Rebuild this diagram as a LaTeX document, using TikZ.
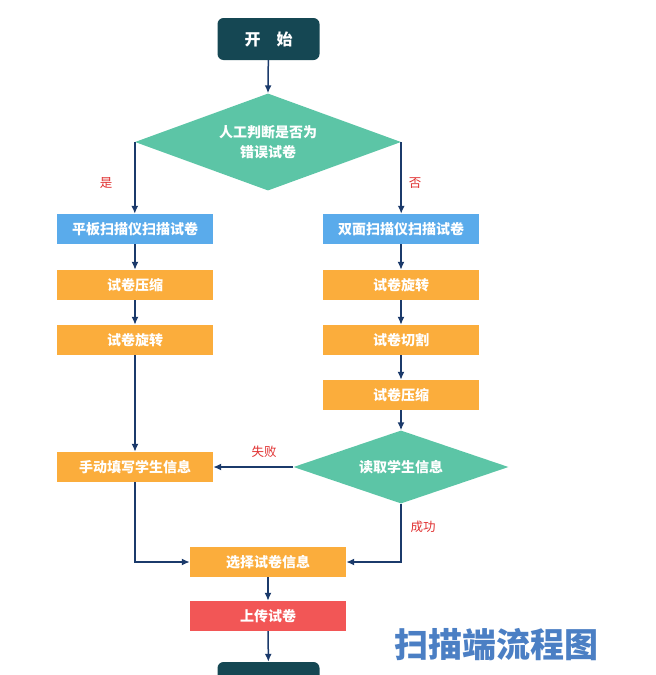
\documentclass[tikz,border=0pt]{standalone}
\usepackage{fontspec}
\newfontfamily\cjk{Noto Sans CJK SC}
\usetikzlibrary{shapes.geometric,arrows.meta}
\definecolor{cteal}{HTML}{154753}
\definecolor{cgreen}{HTML}{5CC5A6}
\definecolor{cblue}{HTML}{5AABEB}
\definecolor{corange}{HTML}{FBAD3C}
\definecolor{cred}{HTML}{F25656}
\definecolor{carrow}{HTML}{1B3A6B}
\definecolor{clabel}{HTML}{E03030}
\definecolor{ctitle}{HTML}{4B7FC4}
\tikzset{
  boxbase/.style={rectangle,minimum width=156pt,minimum height=30pt,inner sep=0pt,
    text=white,font=\cjk\bfseries\fontsize{14}{16}\selectfont},
  bluebox/.style={boxbase,fill=cblue},
  orangebox/.style={boxbase,fill=corange},
  redbox/.style={boxbase,fill=cred},
  termbox/.style={boxbase,fill=cteal,rounded corners=6pt,minimum width=102pt,minimum height=42pt,
    font=\cjk\bfseries\fontsize{16}{18}\selectfont},
  decision/.style={diamond,fill=cgreen,inner sep=0pt,text=white,align=center,
    font=\cjk\bfseries\fontsize{14}{20}\selectfont},
  flow/.style={draw=carrow,line width=1.5pt,-{Latex[length=8pt,width=7pt]}},
  lab/.style={text=clabel,font=\cjk\fontsize{12.5}{14}\selectfont,inner sep=0pt}
}
\begin{document}
\begin{tikzpicture}[x=1pt,y=-1pt]
\useasboundingbox (0,0) rectangle (656,675);
\clip (0,0) rectangle (656,675);
\node[termbox] (start) at (268.5,39) {开\quad 始};
\node[decision,aspect=2.75,minimum width=266pt,minimum height=97pt] (d1) at (268,142) {人工判断是否为\\错误试卷};
\node[bluebox] (l1) at (135,229) {平板扫描仪扫描试卷};
\node[bluebox] (r1) at (401,229) {双面扫描仪扫描试卷};
\node[orangebox] (l2) at (135,285) {试卷压缩};
\node[orangebox] (l3) at (135,340) {试卷旋转};
\node[orangebox] (r2) at (401,285) {试卷旋转};
\node[orangebox] (r3) at (401,340) {试卷切割};
\node[orangebox] (r4) at (401,395) {试卷压缩};
\node[decision,aspect=3,minimum width=215pt,minimum height=73pt] (d2) at (401,467) {读取学生信息};
\node[orangebox] (man) at (135,467) {手动填写学生信息};
\node[orangebox] (sel) at (268,562) {选择试卷信息};
\node[redbox] (up) at (268,616) {上传试卷};
\node[termbox] (end) at (268.5,683) {};
\node[text=ctitle,font=\cjk\bfseries\fontsize{34}{36}\selectfont,inner sep=0pt] (title) at (496,645) {扫描端流程图};

\draw[flow] (start) -- (d1.north);
\draw[flow] (d1.west) -- (d1.west |- l1.north);
\draw[flow] (d1.east) -- (d1.east |- r1.north);
\draw[flow] (l1) -- (l2);
\draw[flow] (l2) -- (l3);
\draw[flow] (l3) -- (man);
\draw[flow] (r1) -- (r2);
\draw[flow] (r2) -- (r3);
\draw[flow] (r3) -- (r4);
\draw[flow] (r4) -- (d2.north);
\draw[flow] (d2.west) -- (man.east);
\draw[flow] (d2.south) |- (sel.east);
\draw[flow] (man.south) |- (sel.west);
\draw[flow] (sel) -- (up);
\draw[flow] (up) -- (end);

\node[lab] (yes) at (106,183) {是};
\node[lab] (no) at (415,183) {否};
\node[lab] (fail) at (264,452) {失败};
\node[lab] (ok) at (423,527) {成功};
\end{tikzpicture}
\end{document}
